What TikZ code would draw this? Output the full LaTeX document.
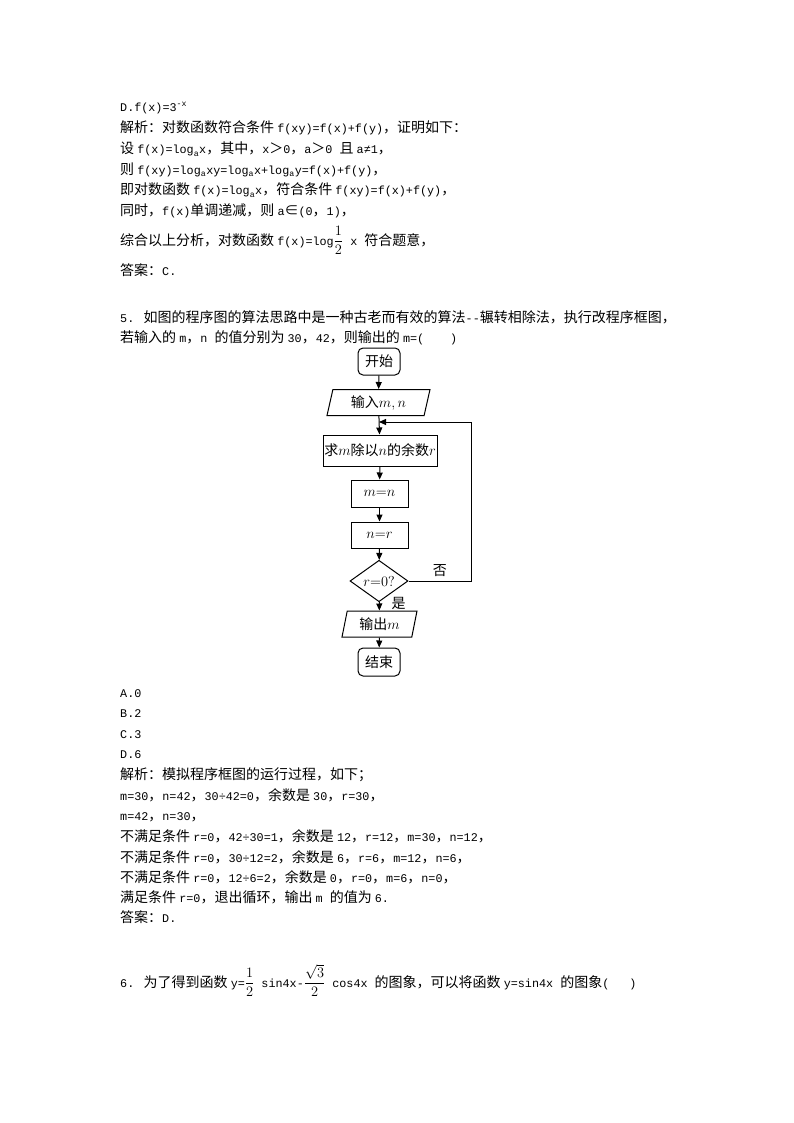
\documentclass[tikz,border=0pt]{standalone}
\usepackage{fontspec}
\setmainfont{Liberation Mono}[Scale=0.84]
\newfontfamily\cjkfont{Noto Sans CJK SC}
\usetikzlibrary{shapes.geometric,arrows.meta}
\newcount\cjkcode
\cjkcode="4E00 \loop \XeTeXcharclass\cjkcode=7 \advance\cjkcode by 1 \ifnum\cjkcode<"9FB0 \repeat
\cjkcode="3000 \loop \XeTeXcharclass\cjkcode=7 \advance\cjkcode by 1 \ifnum\cjkcode<"3040 \repeat
\cjkcode="FF00 \loop \XeTeXcharclass\cjkcode=7 \advance\cjkcode by 1 \ifnum\cjkcode<"FFF0 \repeat
\XeTeXcharclass"2208=7
\XeTeXinterchartoks 0 7 = {\cjkfont}
\XeTeXinterchartoks 4095 7 = {\cjkfont}
\XeTeXinterchartoks 7 0 = {\rmfamily}
\XeTeXinterchartoks 4095 0 = {\rmfamily}
\XeTeXinterchartokenstate=1
\begin{document}
\begin{tikzpicture}[x=1pt,y=-1pt,font=\fontsize{14}{17}\selectfont,
  txt/.style={anchor=base west,inner sep=0pt},
  term/.style={shape=rectangle,rounded corners=5pt,draw=black,line width=1pt,minimum width=42pt,minimum height=27pt,inner sep=0pt},
  io/.style={trapezium,trapezium left angle=68,trapezium right angle=112,trapezium stretches body=true,draw=black,line width=1pt,minimum height=26pt,inner sep=0pt},
  proc/.style={shape=rectangle,draw=black,line width=1pt,inner sep=0pt},
  cond/.style={diamond,draw=black,line width=1pt,minimum width=58pt,minimum height=36pt,inner sep=0pt},
  flow/.style={-{Triangle[length=7pt,width=6pt]},draw=black,line width=1pt}]
\path[use as bounding box,fill=white] (0,0) rectangle (794,1123);

\node[txt] (l1) at (120,112) {D.f(x)=3\textsuperscript{-x}};
\node[txt] (l2) at (120,133) {解析：对数函数符合条件 f(xy)=f(x)+f(y)，证明如下：};
\node[txt] (l3) at (120,154) {设 f(x)=log\textsubscript{a}x，其中，x＞0，a＞0 且 a≠1，};
\node[txt] (l4) at (120,174.5) {则 f(xy)=log\textsubscript{a}xy=log\textsubscript{a}x+log\textsubscript{a}y=f(x)+f(y)，};
\node[txt] (l5) at (120,195) {即对数函数 f(x)=log\textsubscript{a}x，符合条件 f(xy)=f(x)+f(y)，};
\node[txt] (l6) at (120,216) {同时，f(x)单调递减，则 a∈(0，1)，};
\node[txt] (l7) at (120,245) {综合以上分析，对数函数 f(x)=log$\displaystyle\frac{1}{2}$ x 符合题意，};
\node[txt] (l8) at (120,275) {答案：C.};
\node[txt] (l9) at (120,322) {5. 如图的程序图的算法思路中是一种古老而有效的算法-{}-辗转相除法，执行改程序框图，};
\node[txt] (l10) at (120,342) {若输入的 m，n 的值分别为 30，42，则输出的 m=(\hspace{26pt})};

\node[term] (0) at (379,361.5) {开始};
\node[io,minimum width=103pt] (1) at (378.5,402.5) {输入$m,n$};
\node[proc,minimum width=114pt,minimum height=31pt] (2) at (380,450.5) {求$m$除以$n$的余数$r$};
\node[proc,minimum width=57pt,minimum height=27pt] (3) at (379.5,493.5) {$m{=}n$};
\node[proc,minimum width=57pt,minimum height=26pt] (4) at (379.5,535) {$n{=}r$};
\node[cond] (5) at (379,581) {$r{=}0?$};
\node[io,minimum width=75pt] (6) at (379.5,624) {输出$m$};
\node[term,minimum height=28pt] (7) at (379,662) {结束};
\coordinate (back1) at (471,581);
\coordinate (back2) at (471,422);
\coordinate (join) at (379,422);

\path [flow] (0) edge (1);
\path [flow] (1) edge (2);
\path [flow] (2) edge (3);
\path [flow] (3) edge (4);
\path [flow] (4) edge (5);
\path [flow] (5) edge node[right=9pt,pos=0.15] {是} (6);
\path [flow] (6) edge (7);
\draw [flow] (5.east) -- node[above=1pt] {否} (back1) -- (back2) -- (join);

\node[txt] (a1) at (120,697) {A.0};
\node[txt] (a2) at (120,717) {B.2};
\node[txt] (a3) at (120,738) {C.3};
\node[txt] (a4) at (120,758) {D.6};
\node[txt] (s1) at (120,779) {解析：模拟程序框图的运行过程，如下；};
\node[txt] (s2) at (120,800) {m=30，n=42，30÷42=0，余数是 30，r=30，};
\node[txt] (s3) at (120,820) {m=42，n=30，};
\node[txt] (s4) at (120,841) {不满足条件 r=0，42÷30=1，余数是 12，r=12，m=30，n=12，};
\node[txt] (s5) at (120,862) {不满足条件 r=0，30÷12=2，余数是 6，r=6，m=12，n=6，};
\node[txt] (s6) at (120,882) {不满足条件 r=0，12÷6=2，余数是 0，r=0，m=6，n=0，};
\node[txt] (s7) at (120,902) {满足条件 r=0，退出循环，输出 m 的值为 6.};
\node[txt] (s8) at (120,922) {答案：D.};
\node[txt] (q6) at (120,987) {6. 为了得到函数 y=$\displaystyle\frac{1}{2}$ sin4x-$\displaystyle\frac{\sqrt{3}}{2}$ cos4x 的图象，可以将函数 y=sin4x 的图象(\hspace{20pt})};
\end{tikzpicture}
\end{document}
